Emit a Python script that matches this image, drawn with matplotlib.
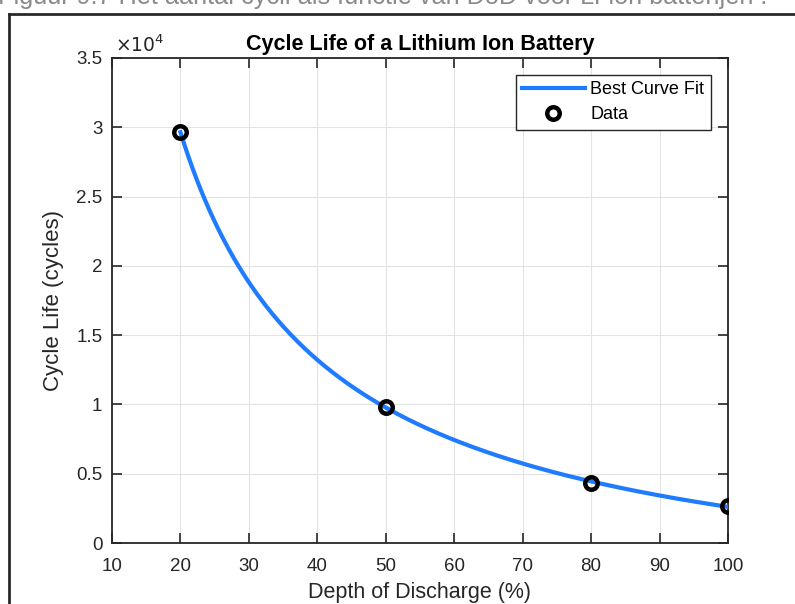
import numpy as np
import matplotlib
matplotlib.use('Agg')
import matplotlib.pyplot as plt
from matplotlib.lines import Line2D
from matplotlib.ticker import FuncFormatter

# measured cycle life vs depth of discharge
dod = np.array([20, 50, 80, 100])
cycles = np.array([29640, 9810, 4350, 2670])

xticks = [10, 20, 30, 40, 50, 60, 70, 80, 90, 100]
yticks = [0, 5000, 10000, 15000, 20000, 25000, 30000, 35000]

caption = 'Figuur 9.7 Het aantal cycli als functie van DoD voor Li-ion batterijen .'

plt.rcParams['font.family'] = ['Liberation Sans', 'DejaVu Sans']

# power2 fit  y = a*x^b + c  (scan b, least squares for a and c)
best = None
for b in np.linspace(-4, -0.05, 4000):
    A = np.column_stack([dod ** b, np.ones_like(dod, dtype=float)])
    coef, res, _, _ = np.linalg.lstsq(A, cycles, rcond=None)
    err = np.sum((A @ coef - cycles) ** 2)
    if best is None or err < best[0]:
        best = (err, b, coef)
_, b, (a, c) = best
xf = np.linspace(20, 100, 400)
yf = a * xf ** b + c

W, H = 795, 604
fig = plt.figure(figsize=(W / 100, H / 100), dpi=100)
ax = fig.add_axes([112 / W, 1 - 543 / H, 616 / W, 485 / H])

ax.plot(xf, yf, color='#1f7bff', lw=3, label='Best Curve Fit', zorder=3)
ax.plot(dod, cycles, 'o', mfc='none', mec='black', mew=3.2, ms=9, label='Data', zorder=4)

ax.set_xlim(10, 100)
ax.set_ylim(0, 35000)
ax.set_xticks(xticks)
ax.set_yticks(yticks)
ax.yaxis.set_major_formatter(FuncFormatter(lambda v, p: '%g' % (v / 1e4)))
ax.grid(True, color='#e3e3e3', lw=0.8)
ax.set_axisbelow(True)

axc = '#262626'
for s in ax.spines.values():
    s.set_color(axc)
    s.set_linewidth(1.3)
ax.tick_params(direction='in', length=7, width=1.2, color=axc, labelcolor=axc,
               labelsize=13.5, top=True, right=True)
ax.tick_params(axis='x', pad=11)
ax.tick_params(axis='y', pad=7)

ax.text(0.005, 1.005, r'$\times 10^4$', transform=ax.transAxes, fontsize=13.5,
        color=axc, va='bottom', ha='left')
ax.set_title('Cycle Life of a Lithium Ion Battery', fontsize=15.5,
             fontweight='bold', color='black', pad=6)
ax.set_xlabel('Depth of Discharge (%)', fontsize=15.5, color=axc, labelpad=5)
ax.set_ylabel('Cycle Life (cycles)', fontsize=16, color=axc, labelpad=9)

leg = ax.legend(loc='upper right', bbox_to_anchor=(0.972, 0.965), fontsize=13,
                frameon=True, fancybox=False, edgecolor=axc, framealpha=1,
                handlelength=3.5, borderpad=0.35, labelspacing=0.45,
                handletextpad=0.3, borderaxespad=0)
leg.get_frame().set_linewidth(1.0)

# surrounding frame and clipped caption line
fig.add_artist(Line2D([9 / W, 9 / W], [0, 1 - 14 / H], color='#2a2a2a', lw=2))
fig.add_artist(Line2D([9 / W, 1], [1 - 14 / H, 1 - 14 / H], color='#2a2a2a', lw=2))
fig.text(-2 / W, 1 - 4 / H, caption, fontsize=18.2, color='#8a8a8a',
         ha='left', va='baseline')

fig.savefig('out.png', dpi=100)
